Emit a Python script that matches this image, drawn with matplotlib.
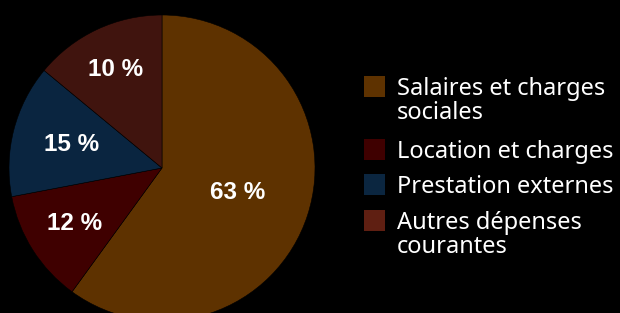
import matplotlib
matplotlib.use("Agg")
import matplotlib.pyplot as plt
from matplotlib.patches import Rectangle
import numpy as np

# Data (slice shares as read from the drawn wedges; labels as printed)
categories = ["Salaires et charges\nsociales", "Location et charges",
              "Prestation externes", "Autres dépenses\ncourantes"]
shares = [60, 12, 14, 14]
value_labels = ["63 %", "12 %", "15 %", "10 %"]

slice_colors = ["#5e3200", "#3f0000", "#0a2540", "#40140e"]
legend_colors = ["#5e3200", "#3f0000", "#0b2640", "#5f1f12"]
label_radius = [0.52, 0.68, 0.61, 0.71]

W, H = 620, 313
fig = plt.figure(figsize=(W / 100, H / 100), dpi=100, facecolor="black")

cx, cy, R = 162, 168, 153
ax = fig.add_axes([(cx - R) / W, (H - cy - R) / H, 2 * R / W, 2 * R / H])
ax.set_facecolor("black")
wedges, _ = ax.pie(shares, colors=slice_colors, startangle=90, counterclock=False,
                   radius=1.0, wedgeprops=dict(linewidth=0.4, edgecolor="#000000"))
ax.set_xlim(-1, 1)
ax.set_ylim(-1, 1)
ax.set_aspect("equal")
ax.axis("off")

for w, txt, rf in zip(wedges, value_labels, label_radius):
    ang = np.deg2rad((w.theta1 + w.theta2) / 2)
    ax.text(rf * np.cos(ang), rf * np.sin(ang), txt, ha="center", va="center",
            color="white", fontsize=17.5, fontweight="bold",
            family=["Liberation Sans", "DejaVu Sans"])

# Legend (manual for top-aligned swatches with multi-line labels)
sw = 21
tops = [76, 139, 174, 210]
for col, lab, top in zip(legend_colors, categories, tops):
    fig.patches.append(Rectangle((364 / W, (H - top - sw) / H), sw / W, sw / H,
                                 transform=fig.transFigure, facecolor=col,
                                 edgecolor="none"))
    fig.text(397 / W, (H - top - 1) / H, lab, ha="left", va="top", color="white",
             fontsize=17, family=["Noto Sans", "DejaVu Sans"], linespacing=1.02)

fig.savefig("out.png", dpi=100, facecolor="black")
